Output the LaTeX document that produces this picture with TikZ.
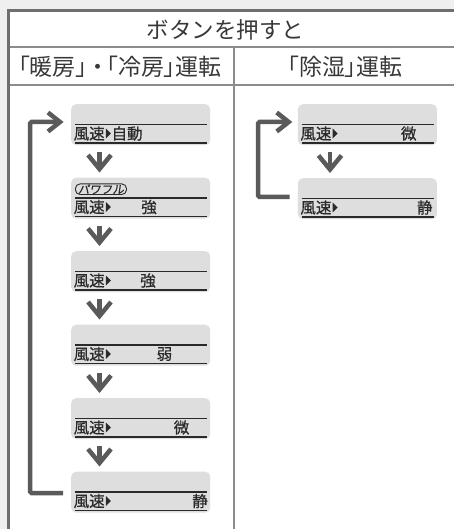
\documentclass[tikz,border=0pt]{standalone}
\usepackage{fontspec}
\setmainfont{Noto Sans CJK JP}
\newfontfamily\slantfont[FakeSlant=0.15,FakeBold=0.5]{Noto Sans CJK JP}
\newfontfamily\paltfont[RawFeature=+palt]{Noto Sans CJK JP}
\newfontfamily\medfont[FakeBold=0.7]{Noto Sans CJK JP}
\usetikzlibrary{calc}
\definecolor{bgc}{HTML}{EEEFEE}
\definecolor{framec}{HTML}{6E6E6E}
\definecolor{gridc}{HTML}{8C8C8C}
\definecolor{panelc}{HTML}{DEDEDE}
\definecolor{inkc}{HTML}{2A2A2A}
\definecolor{headc}{HTML}{383838}
\definecolor{arrc}{HTML}{5A5A5A}
\tikzset{
  frame/.style={draw=framec, line width=3pt},
  gridline/.style={draw=gridc, line width=1.3pt},
  panel/.style={fill=panelc, rounded corners=5pt, minimum width=139pt, minimum height=41pt, inner sep=0pt, anchor=north west},
  rule/.style={draw=inkc, line width=1.6pt},
  lbl/.style={text=inkc, font=\medfont\fontsize{15.5}{17}\selectfont, inner sep=0pt},
  head/.style={text=headc, font=\fontsize{22.5}{26}\selectfont, inner sep=0pt},
  tri/.style={fill=inkc},
  arr/.style={draw=arrc, line width=4.5pt, line join=miter},
  pill/.style={draw=inkc, line width=0.9pt, rounded corners=4.5pt, inner xsep=2.5pt, inner ysep=0.4pt, text=inkc, font=\slantfont\fontsize{11.5}{12}\selectfont}
}
\newcommand\mkpanel[3]{%
  \node[panel] (#1) at (#2,#3) {};
  \draw[rule] ($(#1.north west)+(4,20.5)$) -- ($(#1.north east)+(-3,20.5)$);
  \draw[rule] ($(#1.north west)+(4,38.8)$) -- ($(#1.north east)+(-3,38.8)$);
  \node[lbl, anchor=west] (#1w) at ($(#1.north west)+(2.5,29.5)$) {風速};
  \fill[tri] ($(#1w.east)+(1,-5)$) -- ($(#1w.east)+(1,5)$) -- ($(#1w.east)+(6,0)$) -- cycle;
}
\newcommand\mkdown[3]{%
  \draw[arr] ($(#1.south west)+(#3,7)$) -- ($(#2.north west)+(#3,-8.5)$) coordinate (#1t);
  \draw[arr] ($(#1t)+(-11.5,-14)$) -- (#1t) -- ($(#1t)+(11.5,-14)$);
}
\begin{document}
\begin{tikzpicture}[x=1pt,y=-1pt]
\fill[bgc] (0,0) rectangle (454,529);
\useasboundingbox (0,0) rectangle (454,529);
\fill[white] (8.5,10.5) rectangle (454,529);
\draw[frame] (8.5,529) -- (8.5,10.5) -- (454,10.5);
\draw[gridline] (10,47) -- (454,47);
\draw[gridline] (10,85) -- (454,85);
\draw[gridline] (234,47) -- (234,529);
\node[head] (h0) at (225.5,29.5) {ボタンを押すと};
\node[head, font=\paltfont\fontsize{23}{26}\selectfont] (h1) at (120,67) {「暖房」\hspace{4.5pt}・\hspace{3.5pt}「冷房」運転};
\node[head, font=\paltfont\fontsize{23}{26}\selectfont] (h2) at (345,67) {「除湿」運転};
% left column
\mkpanel{L1}{71}{104}
\mkpanel{L2}{71}{177.5}
\mkpanel{L3}{71}{251}
\mkpanel{L4}{71}{324.5}
\mkpanel{L5}{71}{398}
\mkpanel{L6}{71}{471.5}
\node[lbl, anchor=west] (v1) at ($(L1w.east)+(6.5,0)$) {自動};
\node[pill, anchor=north west] (pw) at ($(L2.north west)+(4,6)$) {パワフル};
\node[lbl] (v2) at ($(L2.north west)+(78,29.5)$) {強};
\node[lbl] (v3) at ($(L3.north west)+(77,29.5)$) {強};
\node[lbl] (v4) at ($(L4.north west)+(93.5,29.5)$) {弱};
\node[lbl] (v5) at ($(L5.north west)+(110.5,29.5)$) {微};
\node[lbl] (v6) at ($(L6.north west)+(129,29.5)$) {静};
\mkdown{L1}{L2}{28.5}
\mkdown{L2}{L3}{28.5}
\mkdown{L3}{L4}{28.5}
\mkdown{L4}{L5}{28.5}
\mkdown{L5}{L6}{28.5}
\draw[arr, rounded corners=1.5pt] ($(L6.north west)+(-8,21.5)$) -- ($(L6.north west)+(-41,21.5)$) |- ($(L1.north west)+(-11,18)$) coordinate (lt);
\draw[arr] ($(lt)+(-12,-9.5)$) -- (lt) -- ($(lt)+(-12,9.5)$);
% right column
\mkpanel{R1}{297.7}{104}
\mkpanel{R2}{297.7}{178}
\node[lbl] (r1) at ($(R1.north west)+(111,29.5)$) {微};
\node[lbl] (r2) at ($(R2.north west)+(127,29.5)$) {静};
\mkdown{R1}{R2}{32.3}
\draw[arr, rounded corners=1.5pt] ($(R2.north west)+(-8,19)$) -- ($(R2.north west)+(-39.7,19)$) |- ($(R1.north west)+(-9,18)$) coordinate (rt);
\draw[arr] ($(rt)+(-12,-9.5)$) -- (rt) -- ($(rt)+(-12,9.5)$);
\end{tikzpicture}
\end{document}
